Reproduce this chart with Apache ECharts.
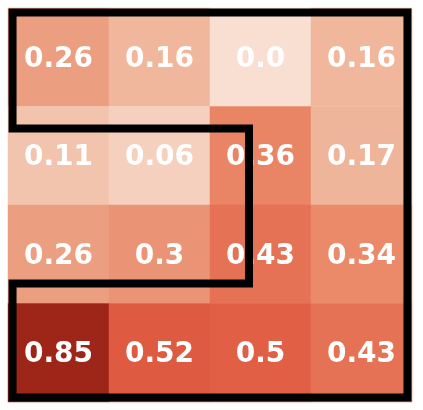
<!DOCTYPE html>
<html>
<head>
<meta charset="utf-8">
<script src="https://cdn.jsdelivr.net/npm/echarts@6/dist/echarts.min.js"></script>
<style>
html,body{margin:0;padding:0;background:#fff;}
#chart{width:423px;height:410px;}
</style>
</head>
<body>
<div id="chart"></div>
<script>
// Data
var columns = ['c0', 'c1', 'c2', 'c3'];
var rows = ['r0', 'r1', 'r2', 'r3'];
var row0 = [0.26, 0.16, 0.0, 0.16];
var row1 = [0.11, 0.06, 0.36, 0.17];
var row2 = [0.26, 0.3, 0.43, 0.34];
var row3 = [0.85, 0.52, 0.5, 0.43];
var values = [row0, row1, row2, row3];
// Highlight outline in cell units (x: columns, y: rows from top)
var outlineX = [0.045, 3.955, 3.955, 0.045, 0.045, 2.386, 2.386, 0.045, 0.045];
var outlineY = [0.046, 0.046, 3.954, 3.954, 2.797, 2.797, 1.223, 1.223, 0.046];
var colorStops = ['#f9dfd1', '#efb59a', '#ea8a69', '#e05c42', '#c2402b', '#9e2618'];

var heatData = [];
values.forEach(function (r, ri) {
  r.forEach(function (v, ci) { heatData.push([ci, ri, v]); });
});
var outlineData = outlineX.map(function (x, i) { return [x, outlineY[i]]; });

function fmt(v) {
  return Number.isInteger(v) ? v.toFixed(1) : String(v);
}

var chart = echarts.init(document.getElementById('chart'), null, {renderer: 'canvas'});
var gridBox = {left: 8, top: 8, width: 404, height: 394};
chart.setOption({
  animation: false,
  grid: [Object.assign({}, gridBox), Object.assign({}, gridBox)],
  xAxis: [
    {type: 'category', data: columns, gridIndex: 0, show: false},
    {type: 'value', min: 0, max: 4, gridIndex: 1, show: false}
  ],
  yAxis: [
    {type: 'category', data: rows, gridIndex: 0, inverse: true, show: false},
    {type: 'value', min: 0, max: 4, gridIndex: 1, inverse: true, show: false}
  ],
  visualMap: {
    show: false,
    min: 0,
    max: 0.85,
    seriesIndex: 0,
    dimension: 2,
    inRange: {color: colorStops}
  },
  series: [
    {
      type: 'heatmap',
      xAxisIndex: 0,
      yAxisIndex: 0,
      data: heatData,
      itemStyle: {borderWidth: 0},
      label: {
        show: true,
        color: '#ffffff',
        fontFamily: 'DejaVu Sans',
        fontWeight: 'bold',
        fontSize: 28,
        offset: [0, 2],
        formatter: function (p) { return fmt(p.value[2]); }
      },
      emphasis: {disabled: true}
    },
    {
      type: 'line',
      xAxisIndex: 1,
      yAxisIndex: 1,
      data: outlineData,
      symbol: 'none',
      silent: true,
      z: 10,
      lineStyle: {color: '#000000', width: 8, join: 'miter', cap: 'square'}
    }
  ]
});
</script>
</body>
</html>
